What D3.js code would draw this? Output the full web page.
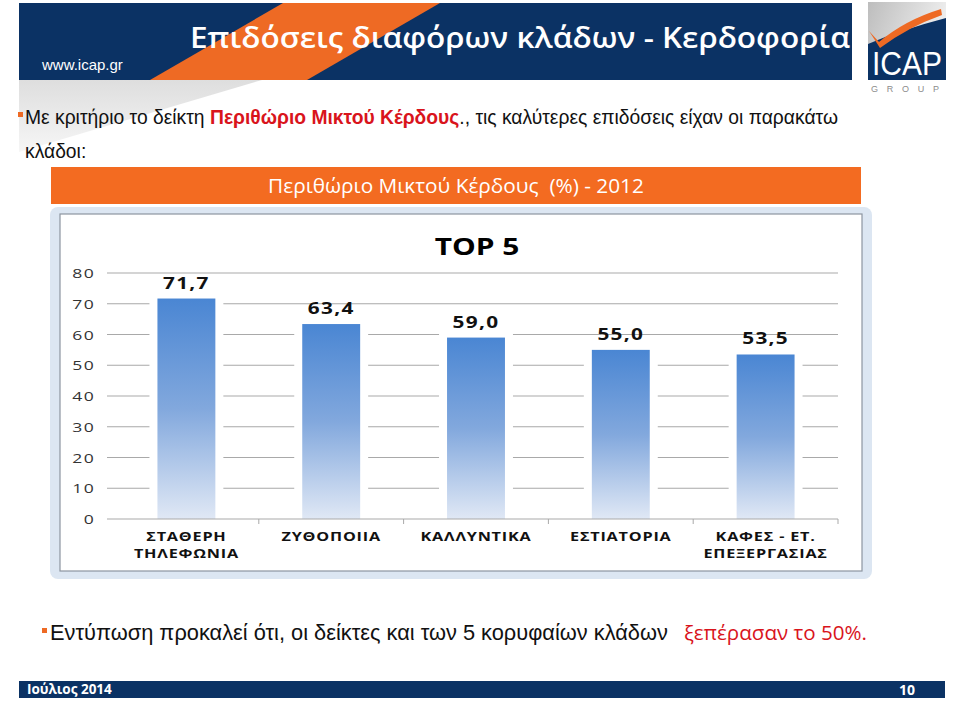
<!DOCTYPE html>
<html><head><meta charset="utf-8">
<script src="https://cdn.jsdelivr.net/npm/d3@7"></script>
<style>body{margin:0;background:#fff;overflow:hidden}</style></head>
<body><svg id="c" width="960" height="701"></svg>
<script>
// ---- data ----
const categories = ["ΣΤΑΘΕΡΗ ΤΗΛΕΦΩΝΙΑ", "ΖΥΘΟΠΟΙΙΑ", "ΚΑΛΛΥΝΤΙΚΑ", "ΕΣΤΙΑΤΟΡΙΑ", "ΚΑΦΕΣ - ΕΤ. ΕΠΕΞΕΡΓΑΣΙΑΣ"];
const categoryLines = [["ΣΤΑΘΕΡΗ", "ΤΗΛΕΦΩΝΙΑ"], ["ΖΥΘΟΠΟΙΙΑ"], ["ΚΑΛΛΥΝΤΙΚΑ"], ["ΕΣΤΙΑΤΟΡΙΑ"], ["ΚΑΦΕΣ - ΕΤ.", "ΕΠΕΞΕΡΓΑΣΙΑΣ"]];
const values = [71.7, 63.4, 59.0, 55.0, 53.5];
const yTicks = [0, 10, 20, 30, 40, 50, 60, 70, 80];
const chartTitle = "TOP 5";
const slideTitle = "Επιδόσεις διαφόρων κλάδων - Κερδοφορία";
const bannerTitle = "Περιθώριο Μικτού Κέρδους  (%) - 2012";

const svg = d3.select("#c");
const NAVY = "#0b3264", ORANGE = "#ee6a24", RED = "#d9141c";
const defs = svg.append("defs");

// ---- header ----
const gGrey = defs.append("linearGradient").attr("id", "wm").attr("x1", 0).attr("y1", 0).attr("x2", 0).attr("y2", 1);
gGrey.append("stop").attr("offset", 0).attr("stop-color", "#dedede");
gGrey.append("stop").attr("offset", 1).attr("stop-color", "#f6f6f6");
svg.append("path").attr("d", "M19,80 L262,80 L19,152 Z").attr("fill", "url(#wm)");
svg.append("rect").attr("x", 19).attr("y", 3).attr("width", 833).attr("height", 77).attr("fill", NAVY);
svg.append("path").attr("d", "M283,3 L440,3 L307,80 L150,80 Z").attr("fill", ORANGE);
svg.append("text").attr("x", 190).attr("y", 48).attr("fill", "#fff")
  .attr("font-family", "Open Sans").attr("font-weight", 600).attr("font-size", 28)
  .attr("textLength", 660).attr("lengthAdjust", "spacingAndGlyphs").text(slideTitle);
svg.append("text").attr("x", 42).attr("y", 70).attr("fill", "#fff")
  .attr("font-family", "Liberation Sans").attr("font-size", 15).text("www.icap.gr");

// logo
const gl = defs.append("linearGradient").attr("id", "lg").attr("x1", 0).attr("y1", 0).attr("x2", 1).attr("y2", 0.4);
gl.append("stop").attr("offset", 0).attr("stop-color", "#bdbdbd");
gl.append("stop").attr("offset", 1).attr("stop-color", "#f2f2f2");
svg.append("rect").attr("x", 868).attr("y", 2).attr("width", 78).attr("height", 78).attr("fill", "url(#lg)");
svg.append("path").attr("d", "M868,44 Q900,30 946,18 L946,80 L868,80 Z").attr("fill", NAVY);
svg.append("path").attr("d", "M869,31 L879,42 Q905,20 941,9 L942,15 Q908,27 880,48 Z").attr("fill", ORANGE);
svg.append("text").attr("x", 872).attr("y", 75).attr("fill", "#fff")
  .attr("font-family", "Liberation Sans Narrow, Liberation Sans").attr("font-size", 34)
  .attr("textLength", 70).attr("lengthAdjust", "spacingAndGlyphs").text("ICAP");
svg.append("text").attr("x", 871).attr("y", 92).attr("fill", "#8c8c8c")
  .attr("font-family", "Liberation Sans").attr("font-size", 9)
  .attr("textLength", 68).attr("lengthAdjust", "spacing").text("GROUP");

// ---- bullet text ----
svg.append("rect").attr("x", 18).attr("y", 112).attr("width", 5).attr("height", 5).attr("fill", ORANGE);
const t1 = svg.append("text").attr("x", 25).attr("y", 124).attr("font-family", "Liberation Sans").attr("font-size", 19.3).attr("fill", "#111");
t1.append("tspan").text("Με κριτήριο το δείκτη ");
t1.append("tspan").attr("fill", RED).attr("font-weight", "bold").text("Περιθώριο Μικτού Κέρδους");
t1.append("tspan").text("., τις καλύτερες επιδόσεις είχαν οι παρακάτω");
svg.append("text").attr("x", 25).attr("y", 158).attr("font-family", "Liberation Sans").attr("font-size", 19.3).attr("fill", "#111").text("κλάδοι:");

// banner
svg.append("rect").attr("x", 51).attr("y", 167).attr("width", 810).attr("height", 37).attr("fill", "#f36b21");
svg.append("text").attr("x", 456).attr("y", 193).attr("text-anchor", "middle").attr("fill", "#fff")
  .attr("font-family", "Open Sans").attr("font-size", 20.8).attr("xml:space", "preserve").text(bannerTitle);

// ---- chart frame ----
svg.append("rect").attr("x", 50).attr("y", 207).attr("width", 822).attr("height", 372).attr("rx", 8).attr("fill", "#dce6f2");
svg.append("rect").attr("x", 60).attr("y", 214).attr("width", 802).attr("height", 357).attr("fill", "#fff").attr("stroke", "#8d95a0").attr("stroke-width", 1.2);

const x = d3.scaleBand().domain(categories).range([114, 838]).paddingInner(0.6).paddingOuter(0.3);
const y = d3.scaleLinear().domain([0, 80]).range([519, 273]);
const gridX0 = 107, gridX1 = 838;
const SX = 1.3;

// gridlines
svg.append("g").selectAll("line").data(yTicks.filter(d => d > 0)).join("line")
  .attr("x1", gridX0).attr("x2", gridX1).attr("y1", d => y(d)).attr("y2", d => y(d))
  .attr("stroke", "#a9a9a9").attr("stroke-width", 1.2);

// y tick labels
svg.append("g").selectAll("text").data(yTicks).join("text")
  .attr("transform", d => `translate(95,${y(d) + 5}) scale(${SX},1)`)
  .attr("text-anchor", "end").attr("font-family", "Open Sans").attr("font-size", 13.5).attr("fill", "#333")
  .attr("letter-spacing", 1).text(d => d);

// bar gradient
const bg = defs.append("linearGradient").attr("id", "bar").attr("x1", 0).attr("y1", 0).attr("x2", 0).attr("y2", 1);
bg.append("stop").attr("offset", 0).attr("stop-color", "#4a86d3");
bg.append("stop").attr("offset", 0.5).attr("stop-color", "#82a8dd");
bg.append("stop").attr("offset", 1).attr("stop-color", "#e0e8f5");

const gb = svg.append("g");
gb.selectAll("rect.halo").data(values).join("rect").attr("class", "halo")
  .attr("x", (d, i) => x(categories[i]) - 8).attr("width", x.bandwidth() + 16)
  .attr("y", d => y(d) - 4).attr("height", d => y(0) - y(d) + 4).attr("fill", "#fff");
gb.selectAll("rect.bar").data(values).join("rect").attr("class", "bar")
  .attr("x", (d, i) => x(categories[i])).attr("width", x.bandwidth())
  .attr("y", d => y(d)).attr("height", d => y(0) - y(d)).attr("fill", "url(#bar)");

// x axis
const xa = svg.append("g");
xa.append("line").attr("x1", gridX0).attr("x2", gridX1).attr("y1", y(0)).attr("y2", y(0)).attr("stroke", "#a9a9a9").attr("stroke-width", 1.2);
xa.selectAll("line.tk").data(categories).join("line").attr("class", "tk")
  .attr("x1", d => x(d) + x.bandwidth() / 2 + x.step() / 2).attr("x2", d => x(d) + x.bandwidth() / 2 + x.step() / 2)
  .attr("y1", y(0)).attr("y2", y(0) + 5).attr("stroke", "#a9a9a9");

// value labels
svg.append("g").selectAll("text").data(values).join("text")
  .attr("transform", (d, i) => `translate(${x(categories[i]) + x.bandwidth() / 2},${y(d) - 10}) scale(${SX},1)`)
  .attr("text-anchor", "middle").attr("font-family", "Open Sans").attr("font-weight", "bold").attr("font-size", 16)
  .attr("letter-spacing", 1).attr("fill", "#111").text(d => d.toFixed(1).replace(".", ","));

// category labels
const cl = svg.append("g").selectAll("text").data(categoryLines).join("text")
  .attr("transform", (d, i) => `translate(${x(categories[i]) + x.bandwidth() / 2},541) scale(${SX},1)`)
  .attr("text-anchor", "middle").attr("font-family", "Open Sans").attr("font-weight", "bold").attr("font-size", 12.5)
  .attr("letter-spacing", 0.6).attr("fill", "#111");
cl.selectAll("tspan").data(d => d).join("tspan").attr("x", 0).attr("dy", (d, i) => i === 0 ? 0 : 17).text(d => d);

// chart title
svg.append("text").attr("transform", `translate(477,255) scale(${SX},1)`).attr("text-anchor", "middle")
  .attr("font-family", "Open Sans").attr("font-weight", "bold").attr("font-size", 23).attr("fill", "#000").text(chartTitle);

// ---- bottom text ----
svg.append("rect").attr("x", 42).attr("y", 628).attr("width", 5).attr("height", 5).attr("fill", ORANGE);
const t2 = svg.append("text").attr("x", 50).attr("y", 640).attr("font-family", "Liberation Sans").attr("font-size", 21.8).attr("fill", "#111");
t2.append("tspan").text("Εντύπωση προκαλεί ότι, οι δείκτες και των 5 κορυφαίων κλάδων ");
t2.append("tspan").attr("x", 684).attr("fill", RED).attr("font-family", "Open Sans").attr("font-size", 20.6).text("ξεπέρασαν το 50%.");

// footer
svg.append("rect").attr("x", 19).attr("y", 681).attr("width", 926).attr("height", 17).attr("fill", NAVY);
svg.append("text").attr("x", 27).attr("y", 694).attr("fill", "#fff").attr("font-family", "Open Sans").attr("font-weight", "bold").attr("font-size", 13.5).text("Ιούλιος 2014");
svg.append("text").attr("x", 915).attr("y", 695).attr("text-anchor", "end").attr("fill", "#fff").attr("font-family", "Open Sans").attr("font-weight", "bold").attr("font-size", 14).text("10");
</script></body></html>
